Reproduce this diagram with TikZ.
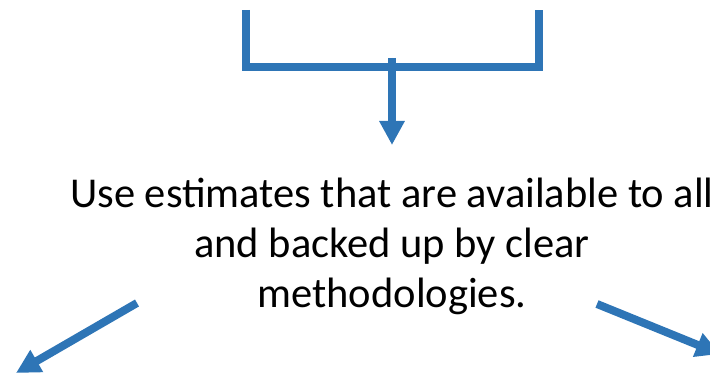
\documentclass[tikz,border=0pt]{standalone}
\usepackage{fontspec}
\setmainfont{Carlito}
\usetikzlibrary{arrows.meta}
\definecolor{slideblue}{RGB}{46,117,182}
\tikzset{
bracketline/.style={draw=slideblue,line width=8pt,miter limit=10},
flowarrow/.style={draw=slideblue,line width=8pt,
-{Triangle[width=24pt,length=24pt]},fill=slideblue},
note/.style={inner sep=0pt,align=center,
font=\fontsize{42.5}{50}\selectfont}
}
\begin{document}
\begin{tikzpicture}[x=1pt,y=1pt]
\useasboundingbox (0,0) rectangle (710,375);

\coordinate (BL) at (246,365);
\coordinate (BR) at (539,365);
\coordinate (BM) at (392,317);
\coordinate (DT) at (392,230);

% base anchor sits on the last line
\node[note,anchor=base] (Est) at (392,67) {Use estimates that are available to all\\and backed up by clear\\methodologies.};

\coordinate (LT) at (137,72);
\coordinate (LH) at (16,2);
\coordinate (RT) at (597,71);
\coordinate (RH) at (720,21);

\draw[bracketline] (BL) |- (BR |- 0,308) -- (BR);
\draw[flowarrow] (BM) -- (DT);
\draw[flowarrow] (LT) -- (LH);
\draw[flowarrow] (RT) -- (RH);
\end{tikzpicture}
\end{document}
